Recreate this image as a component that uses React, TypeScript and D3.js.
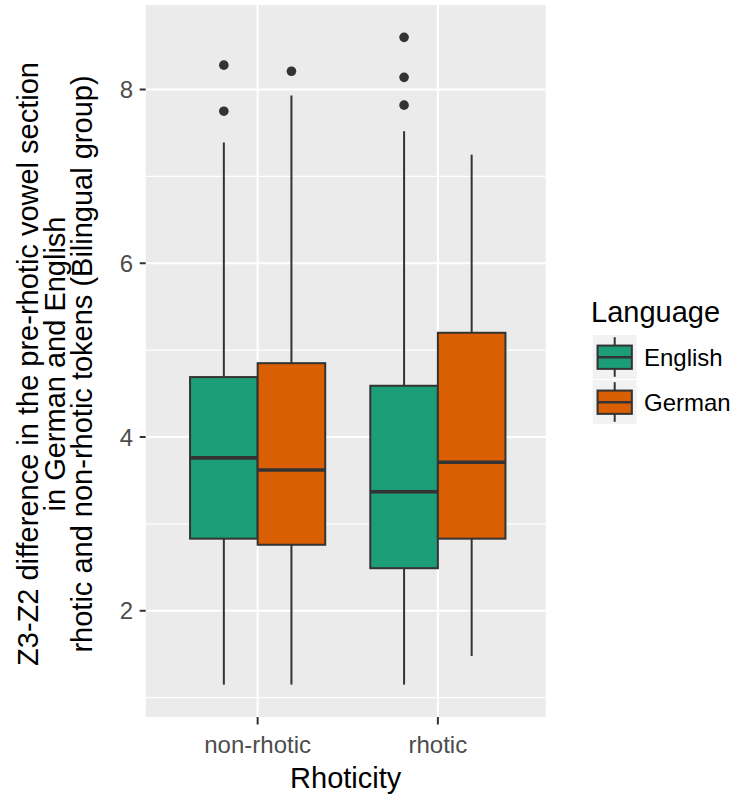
import React from "react";
import * as d3 from "d3";

// Rhoticity categories and language groups
const categories = ["non-rhotic", "rhotic"];
const languages = ["English", "German"];
const languageColors = ["#1B9E77", "#D95F02"];

// Box statistics per category: [lower whisker, Q1, median, Q3, upper whisker]
const englishStats = [
  [1.15, 2.83, 3.76, 4.69, 7.39],
  [1.15, 2.49, 3.37, 4.59, 7.52],
];
const germanStats = [
  [1.15, 2.76, 3.62, 4.85, 7.93],
  [1.48, 2.83, 3.71, 5.2, 7.25],
];

// Outlying observations per category
const englishOutliers = [
  [8.28, 7.75],
  [8.6, 8.14, 7.82],
];
const germanOutliers = [[8.21], []];

const yTicks = [2, 4, 6, 8];
const yMinorTicks = [1, 3, 5, 7, 9];

const W = 734;
const H = 798;
const panel = { left: 145.7, right: 545.7, top: 5, bottom: 717 };
const FONT = "'Liberation Sans', Arial, Helvetica, sans-serif";

export default function App() {
  const statsByLang = [englishStats, germanStats];
  const outliersByLang = [englishOutliers, germanOutliers];

  const allValues = [
    ...englishStats.flat(),
    ...germanStats.flat(),
    ...englishOutliers.flat(),
    ...germanOutliers.flat(),
  ];
  const [lo, hi] = d3.extent(allValues) as [number, number];
  const pad = (hi - lo) * 0.05;

  const y = d3
    .scaleLinear()
    .domain([lo - pad, hi + pad])
    .range([panel.bottom, panel.top]);

  const x = d3
    .scalePoint<string>()
    .domain(categories)
    .range([panel.left + 3.8, panel.right + 0.3])
    .padding(0.6);
  const step = x.step();

  const dodge = d3
    .scaleBand<string>()
    .domain(languages)
    .range([-0.375 * step, 0.375 * step]);
  const bw = dodge.bandwidth();

  const visibleMinor = yMinorTicks.filter(
    (t) => y(t) >= panel.top && y(t) <= panel.bottom
  );

  const keyX = 592.7;
  const keySize = 44;
  const keyYs = [335, 380];

  return (
    <svg
      width={W}
      height={H}
      style={{ position: "absolute", left: 0, top: 0, background: "#fff" }}
      fontFamily={FONT}
    >
      {/* panel background */}
      <rect
        x={panel.left}
        y={panel.top}
        width={panel.right - panel.left}
        height={panel.bottom - panel.top}
        fill="#EBEBEB"
      />
      {/* minor grid */}
      {visibleMinor.map((t) => (
        <line
          key={"mn" + t}
          x1={panel.left}
          x2={panel.right}
          y1={y(t)}
          y2={y(t)}
          stroke="#fff"
          strokeWidth={1.1}
        />
      ))}
      {/* major grid */}
      {yTicks.map((t) => (
        <line
          key={"mj" + t}
          x1={panel.left}
          x2={panel.right}
          y1={y(t)}
          y2={y(t)}
          stroke="#fff"
          strokeWidth={2.1}
        />
      ))}
      {categories.map((c) => (
        <line
          key={"vx" + c}
          x1={x(c)}
          x2={x(c)}
          y1={panel.top}
          y2={panel.bottom}
          stroke="#fff"
          strokeWidth={2.1}
        />
      ))}

      {/* boxplots */}
      {languages.map((lang, li) =>
        categories.map((c, ci) => {
          const [wl, q1, med, q3, wh] = statsByLang[li][ci];
          const cx = (x(c) as number) + (dodge(lang) as number) + bw / 2;
          const x0 = cx - bw / 2;
          return (
            <g key={lang + c}>
              <line x1={cx} x2={cx} y1={y(wh)} y2={y(q3)} stroke="#333" strokeWidth={2} />
              <line x1={cx} x2={cx} y1={y(q1)} y2={y(wl)} stroke="#333" strokeWidth={2} />
              <rect
                x={x0}
                y={y(q3)}
                width={bw}
                height={y(q1) - y(q3)}
                fill={languageColors[li]}
                stroke="#333"
                strokeWidth={2}
              />
              <line x1={x0} x2={x0 + bw} y1={y(med)} y2={y(med)} stroke="#333" strokeWidth={3.6} />
              {outliersByLang[li][ci].map((v, k) => (
                <circle key={k} cx={cx} cy={y(v)} r={4.8} fill="#333" />
              ))}
            </g>
          );
        })
      )}

      {/* y axis */}
      {yTicks.map((t) => (
        <g key={"yt" + t}>
          <line x1={panel.left - 6} x2={panel.left} y1={y(t)} y2={y(t)} stroke="#333" strokeWidth={2} />
          <text
            x={panel.left - 12.5}
            y={y(t)}
            dy="0.36em"
            textAnchor="end"
            fontSize={24}
            fill="#4D4D4D"
          >
            {t}
          </text>
        </g>
      ))}

      {/* x axis */}
      {categories.map((c) => (
        <g key={"xt" + c}>
          <line
            x1={x(c)}
            x2={x(c)}
            y1={panel.bottom}
            y2={panel.bottom + 7.5}
            stroke="#333"
            strokeWidth={2}
          />
          <text x={x(c)} y={753} textAnchor="middle" fontSize={24} fill="#4D4D4D">
            {c}
          </text>
        </g>
      ))}

      {/* axis titles */}
      <text
        x={(panel.left + panel.right) / 2}
        y={788}
        textAnchor="middle"
        fontSize={29}
        fill="#000"
      >
        Rhoticity
      </text>
      <text
        transform={`translate(38, ${(panel.top + panel.bottom) / 2 + 3}) rotate(-90)`}
        textAnchor="middle"
        fontSize={29}
        fill="#000"
      >
        <tspan x={0} dy={0}>
          Z3-Z2 difference in the pre-rhotic vowel section
        </tspan>
        <tspan x={0} dy={27}>
          in German and English
        </tspan>
        <tspan x={0} dy={27}>
          rhotic and non-rhotic tokens (Bilingual group)
        </tspan>
      </text>

      {/* legend */}
      <text x={591} y={322} fontSize={29} fill="#000">
        Language
      </text>
      {languages.map((lang, li) => {
        const ky = keyYs[li];
        const kx0 = keyX + keySize * 0.11;
        const kx1 = keyX + keySize * 0.89;
        const kcx = keyX + keySize / 2;
        const by0 = ky + keySize * 0.24;
        const by1 = ky + keySize * 0.77;
        return (
          <g key={"lg" + lang}>
            <rect x={keyX} y={ky} width={keySize} height={keySize} fill="#F2F2F2" />
            <line x1={kcx} x2={kcx} y1={ky + keySize * 0.05} y2={ky + keySize * 0.95} stroke="#333" strokeWidth={2} />
            <rect
              x={kx0}
              y={by0}
              width={kx1 - kx0}
              height={by1 - by0}
              fill={languageColors[li]}
              stroke="#333"
              strokeWidth={2}
            />
            <line x1={kx0} x2={kx1} y1={(by0 + by1) / 2} y2={(by0 + by1) / 2} stroke="#333" strokeWidth={2.5} />
            <text x={644} y={ky + keySize / 2} dy="0.36em" fontSize={24} fill="#000">
              {lang}
            </text>
          </g>
        );
      })}
    </svg>
  );
}
